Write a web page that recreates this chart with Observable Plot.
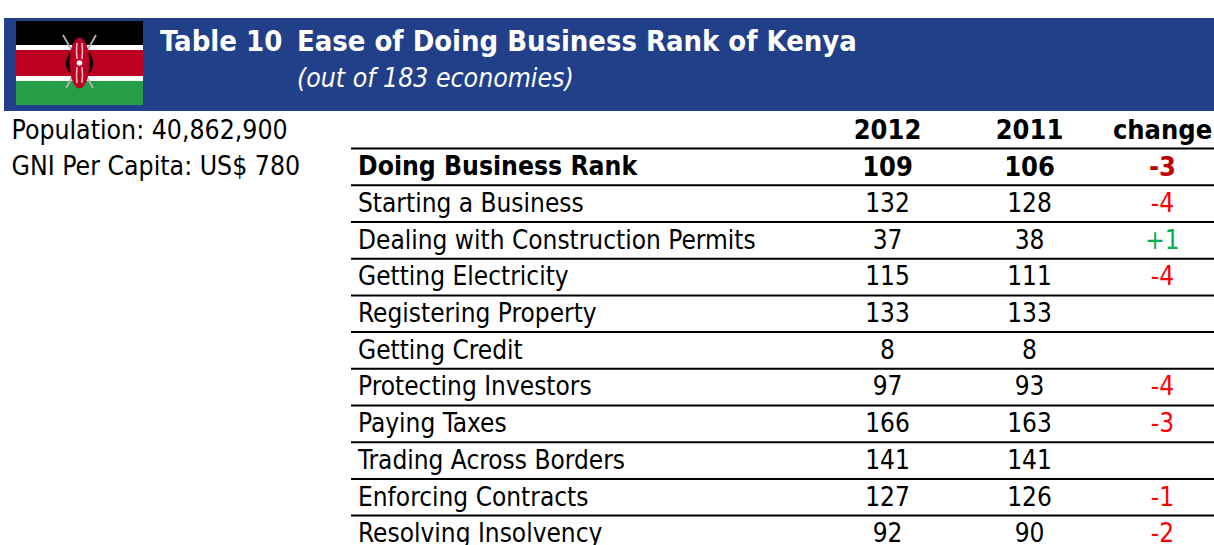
<!DOCTYPE html>
<html><head><meta charset="utf-8">
<script src="https://cdn.jsdelivr.net/npm/d3@7"></script>
<script src="https://cdn.jsdelivr.net/npm/@observablehq/plot@0.6"></script>
<style>
html,body{margin:0;padding:0;background:#fff;overflow:hidden}
body{width:1214px;height:545px;position:relative;font-family:"DejaVu Sans Condensed","DejaVu Sans",sans-serif}
#top{height:111px;position:relative}
#band{position:absolute;left:4px;top:18px;width:1210px;height:93px;background:#224089}
#flag{position:absolute;left:16px;top:21px}
.t{position:absolute;color:#fff;white-space:pre}
#t0{left:160px;top:24px;font-size:29px;font-weight:bold}
#t1{left:297px;top:24px;font-size:28.9px;font-weight:bold}
#t2{left:297px;top:62px;font-size:26.4px;font-style:italic}
#chart svg{display:block}
</style></head><body>
<div id="top">
<div id="band"></div>
<svg id="flag" width="127" height="84" viewBox="0 0 127 84">
<defs><filter id="soft" x="-20%" y="-20%" width="140%" height="140%"><feGaussianBlur stdDeviation="0.5"/></filter></defs>
<rect width="127" height="24" fill="#000"/><rect y="24" width="127" height="5" fill="#fff"/>
<rect y="29" width="127" height="26" fill="#bb0022"/><rect y="55" width="127" height="5" fill="#fff"/>
<rect y="60" width="127" height="24" fill="#269e48"/>
<g filter="url(#soft)">
<path d="M47 14L77 67M80 14L50 67" stroke="#b4b4b4" stroke-width="1.8"/>
<ellipse cx="63.5" cy="42" rx="13.5" ry="15" fill="#000"/>
<ellipse cx="63.5" cy="42" rx="10" ry="25.5" fill="#bb0022"/>
<path d="M61 22Q60 30 61 38M66 22Q67 30 66 38M61 46Q60 54 61 62M66 46Q67 54 66 62" stroke="#f0b8c2" stroke-width="1.6" fill="none"/>
<circle cx="63.5" cy="42" r="2.8" fill="#fff"/>
</g>
</svg>
<div class="t" id="t0">Table 10</div>
<div class="t" id="t1">Ease of Doing Business Rank of Kenya</div>
<div class="t" id="t2">(out of 183 economies)</div>
</div>
<div id="chart"></div>
<script>
const indicators = ["Doing Business Rank","Starting a Business","Dealing with Construction Permits","Getting Electricity","Registering Property","Getting Credit","Protecting Investors","Paying Taxes","Trading Across Borders","Enforcing Contracts","Resolving Insolvency"];
const rank2012 = [109,132,37,115,133,8,97,166,141,127,92];
const rank2011 = [106,128,38,111,133,8,93,163,141,126,90];
const changes = ["-3","-4","+1","-4","","","-4","-3","","-1","-2"];
const sideNotes = ["Population: 40,862,900","GNI Per Capita: US$ 780"];
const columns = ["2012","2011","change"];

const FONT = 26;
const BOLD = 27;
const colX = {label:357.5, "2012":887, "2011":1029, change:1162};
const rows = ["header",...indicators];
const rowH = 36.7;
const table = indicators.map((name,i)=>({name,a:rank2012[i],b:rank2011[i],c:changes[i]}));
const head = table.slice(0,1), body_ = table.slice(1);
const changeColor = d => d.c.startsWith("+") ? "#00b050" : "#ff0000";

const plot = Plot.plot({
  width:1214, height:434, margin:0,
  style:{fontFamily:'"DejaVu Sans Condensed","DejaVu Sans",sans-serif',background:"transparent"},
  x:{type:"linear",domain:[0,1214],range:[0,1214],axis:null},
  y:{type:"band",domain:rows,range:[0.4,0.4+rowH*rows.length],padding:0,round:false,axis:null},
  marks:[
    Plot.ruleY(rows.slice(0,-1),{y:d=>d,x1:351,x2:1214,dy:rowH/2,stroke:"#000",strokeWidth:2}),
    Plot.text(columns,{x:d=>colX[d],y:()=>"header",text:d=>d,fontSize:BOLD,fontWeight:"bold",fill:"#000"}),
    Plot.text(head,{x:colX.label,y:"name",text:"name",textAnchor:"start",fontSize:26.3,fontWeight:"bold",fill:"#000"}),
    Plot.text(head,{x:colX["2012"],y:"name",text:"a",fontSize:BOLD,fontWeight:"bold",fill:"#000"}),
    Plot.text(head,{x:colX["2011"],y:"name",text:"b",fontSize:BOLD,fontWeight:"bold",fill:"#000"}),
    Plot.text(head,{x:colX.change,y:"name",text:"c",fontSize:BOLD,fontWeight:"bold",fill:"#c00000"}),
    Plot.text(body_,{x:colX.label,y:"name",text:"name",textAnchor:"start",fontSize:FONT,fill:"#000"}),
    Plot.text(body_,{x:colX["2012"],y:"name",text:"a",fontSize:FONT,fill:"#000"}),
    Plot.text(body_,{x:colX["2011"],y:"name",text:"b",fontSize:FONT,fill:"#000"}),
    Plot.text(body_,{x:colX.change,y:"name",text:"c",fontSize:FONT,fill:changeColor}),
    Plot.text(sideNotes,{x:11,y:(d,i)=>rows[i],text:d=>d,textAnchor:"start",fontSize:26.4,fill:"#000"})
  ]
});
document.getElementById("chart").append(plot);
</script>
</body></html>
